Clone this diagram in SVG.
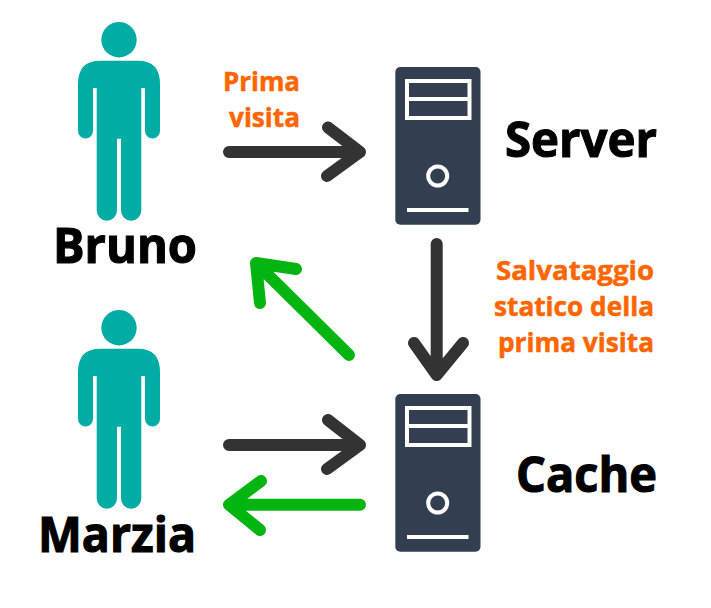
<svg xmlns="http://www.w3.org/2000/svg" width="711" height="608" viewBox="0 0 711 608">
<style>
.name{font-family:"Open Sans","Noto Sans","Liberation Sans",sans-serif;font-weight:700;fill:#000;stroke:#000;stroke-width:1.1px}
.note{font-family:"Open Sans","Noto Sans","Liberation Sans",sans-serif;font-weight:700;fill:#ff6600;stroke:#ff6600;stroke-width:.5px;font-size:27px}
.ar{fill:none;stroke-width:12;stroke-linecap:round;stroke-linejoin:round}
.dark{stroke:#333333}
.green{stroke:#04b512}
.p{fill:#00aca4}
.box{fill:#333f50}
.w{fill:#fff}
.wl{fill:none;stroke:#fff;stroke-width:4}
</style>
<defs>
<g id="person">
<circle class="p" cx="119" cy="39.7" r="17.7"/>
<path class="p" d="M100 60.7H138Q160 60.7 160 84V131A7.5 7.5 0 0 1 145 131V88H141.3V210.5A10.15 10.15 0 0 1 121 210.5V138.7H117V210.5A10.15 10.15 0 0 1 96.7 210.5V88H93V131A7.5 7.5 0 0 1 78 131V84Q78 60.7 100 60.7Z"/>
</g>
<g id="tower">
<rect class="box" x="395.3" y="67" width="85.2" height="157.7" rx="5"/>
<rect class="wl" x="407" y="81" width="62.5" height="37"/>
<rect class="w" x="407" y="97" width="62.5" height="4"/>
<circle class="wl" cx="437.7" cy="176" r="9.5"/>
<rect class="w" x="407" y="208" width="61.5" height="4"/>
</g>
</defs>
<rect width="711" height="608" fill="#fff"/>
<g id="connectors">
<path class="ar dark" d="M229 152H360M328 127.5L360 152L327 176"/>
<path class="ar dark" d="M436.7 244V375M414 343L436.7 375L463 343"/>
<path class="ar dark" d="M229 445H360M328 420L360 445L327 469"/>
<path class="ar green" d="M360 504.7H229M261 481L229 504.7L260 530"/>
<path class="ar green" d="M349 355L256 263M296 269L256 263L260 303"/>
</g>
<g id="bruno"><use href="#person"/><text class="name" x="53" y="263" font-size="49" textLength="144" lengthAdjust="spacingAndGlyphs">Bruno</text></g>
<g id="marzia"><use href="#person" y="288"/><text class="name" x="38" y="552" font-size="49" textLength="158" lengthAdjust="spacingAndGlyphs">Marzia</text></g>
<g id="server"><use href="#tower"/><text class="name" x="505" y="156.7" font-size="49" textLength="152" lengthAdjust="spacingAndGlyphs">Server</text></g>
<g id="cache"><use href="#tower" y="327"/><text class="name" x="516" y="491.7" font-size="49" textLength="141" lengthAdjust="spacingAndGlyphs">Cache</text></g>
<g id="label-prima">
<text class="note" x="223" y="90.7" textLength="77" lengthAdjust="spacingAndGlyphs">Prima</text>
<text class="note" x="229" y="126.7" textLength="71" lengthAdjust="spacingAndGlyphs">visita</text>
</g>
<g id="label-salvataggio">
<text class="note" x="496" y="280" textLength="158" lengthAdjust="spacingAndGlyphs">Salvataggio</text>
<text class="note" x="494" y="316" textLength="160" lengthAdjust="spacingAndGlyphs">statico della</text>
<text class="note" x="498" y="351.6" textLength="156" lengthAdjust="spacingAndGlyphs">prima visita</text>
</g>
</svg>
